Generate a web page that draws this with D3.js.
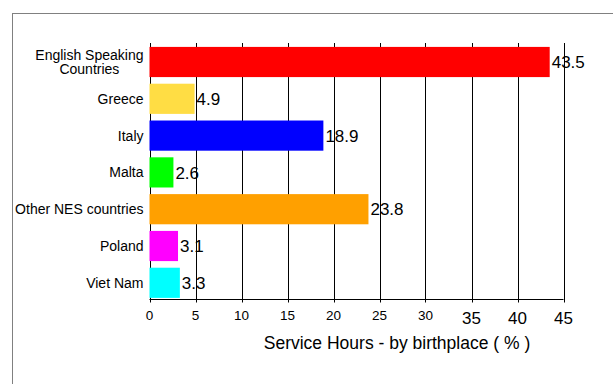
<!DOCTYPE html>
<html>
<head>
<meta charset="utf-8">
<script src="https://cdn.jsdelivr.net/npm/d3@7"></script>
<style>
  body { margin: 0; background: #fff; }
  text { font-family: "Liberation Sans", Arial, sans-serif; }
</style>
</head>
<body>
<div class="bar-chart"></div>
<script>
const categories = ["English Speaking\nCountries", "Greece", "Italy", "Malta", "Other NES countries", "Poland", "Viet Nam"];
const values = [43.5, 4.9, 18.9, 2.6, 23.8, 3.1, 3.3];
const colors = ["#ff0000", "#ffdd44", "#0000ff", "#00ff00", "#ffa000", "#ff00ff", "#00ffff"];
const ticks = [0, 5, 10, 15, 20, 25, 30, 35, 40, 45];

const data = categories.map((c, i) => ({name: c, value: values[i], color: colors[i]}));

const W = 613, H = 384;
const plotLeft = 149.5, plotRight = 563.5, plotTop = 43, axisY = 299.5;

const svg = d3.select(".bar-chart")
    .append("svg")
    .attr("width", W)
    .attr("height", H);

// outer frame
svg.append("rect")
    .attr("x", 12.5)
    .attr("y", 13.5)
    .attr("width", 700)
    .attr("height", 500)
    .attr("fill", "none")
    .attr("stroke", "#808080");

const x = d3.scaleLinear()
    .domain([0, 45])
    .range([plotLeft, plotRight]);

const y = d3.scaleBand()
    .domain(categories)
    .range([43.6, 301.2])
    .paddingInner(0.18)
    .paddingOuter(0.09);

// grid lines
svg.append("g")
    .selectAll("line")
    .data(ticks)
    .join("line")
    .attr("x1", d => Math.round(x(d)) + 0.5)
    .attr("x2", d => Math.round(x(d)) + 0.5)
    .attr("y1", plotTop)
    .attr("y2", axisY + 3)
    .attr("stroke", "#000")
    .attr("stroke-width", 1);

// bars
svg.append("g")
    .selectAll("rect")
    .data(data)
    .join("rect")
    .attr("x", x(0))
    .attr("y", d => y(d.name))
    .attr("width", d => x(d.value) - x(0))
    .attr("height", y.bandwidth())
    .attr("fill", d => d.color);

// bottom axis line
svg.append("line")
    .attr("x1", x(0))
    .attr("x2", x(45))
    .attr("y1", axisY)
    .attr("y2", axisY)
    .attr("stroke", "#000");

// tick labels (the last three are drawn larger, as in the original)
svg.append("g")
    .selectAll("text")
    .data(ticks)
    .join("text")
    .attr("x", d => x(d))
    .attr("y", d => d >= 35 ? 324 : 320)
    .attr("text-anchor", "middle")
    .attr("font-size", d => d >= 35 ? 17 : 13.5)
    .attr("fill", "#000")
    .text(d => d);

// value labels
svg.append("g")
    .selectAll("text")
    .data(data)
    .join("text")
    .attr("x", d => x(d.value) + 2)
    .attr("y", d => y(d.name) + y.bandwidth() / 2)
    .attr("dy", "0.36em")
    .attr("font-size", 17)
    .attr("fill", "#000")
    .text(d => d.value);

// category labels
const labels = svg.append("g")
    .selectAll("text")
    .data(data)
    .join("text")
    .attr("font-size", 14)
    .attr("fill", "#000");

labels.each(function(d) {
    const t = d3.select(this);
    const lines = d.name.split("\n");
    const cy = y(d.name) + y.bandwidth() / 2;
    lines.forEach((l, i) => {
        t.append("tspan")
            .attr("dy", i === 0 ? ((0.36 - (lines.length - 1) * 0.52) + "em") : "1.04em")
            .text(l);
    });
    t.attr("y", cy);
    // centre all lines on the longest, right aligned to the axis
    let maxW = 0;
    t.selectAll("tspan").each(function() { maxW = Math.max(maxW, this.getComputedTextLength()); });
    t.attr("text-anchor", "middle");
    t.selectAll("tspan").attr("x", plotLeft - 6 - maxW / 2);
});

// axis title
svg.append("text")
    .attr("x", 397)
    .attr("y", 349)
    .attr("text-anchor", "middle")
    .attr("font-size", 17.5)
    .attr("fill", "#000")
    .text("Service Hours - by birthplace ( % )");
</script>
</body>
</html>
